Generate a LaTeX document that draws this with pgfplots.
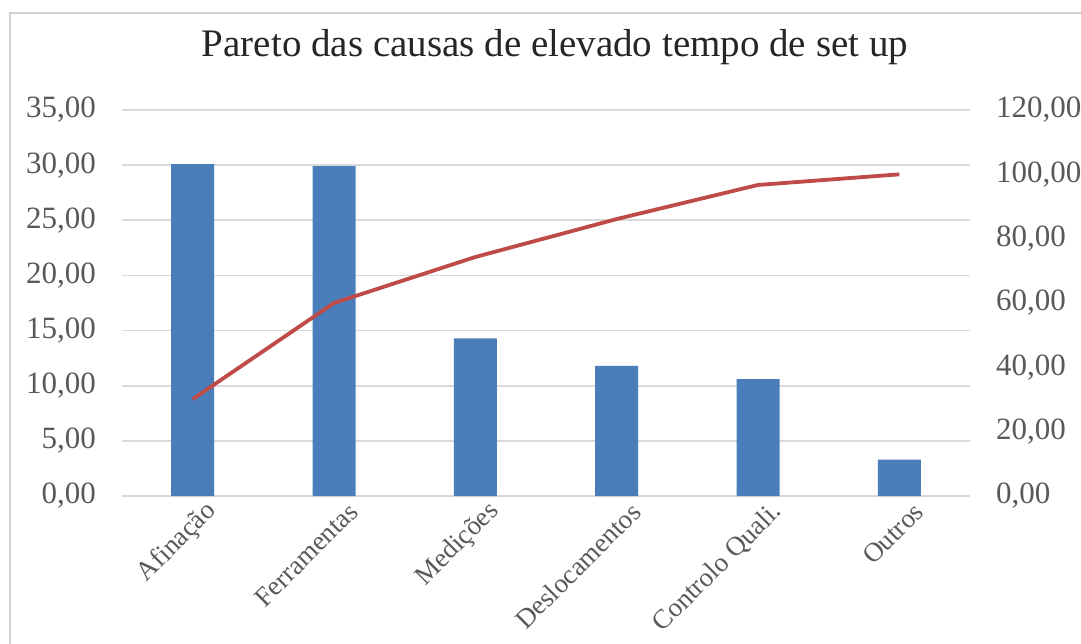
\documentclass[border=0pt]{standalone}
\usepackage{pgfplots}
\pgfplotsset{compat=1.18}
\usepackage{fontspec}
\setmainfont{Liberation Serif}
\definecolor{barblue}{HTML}{4A7EBB}
\definecolor{linered}{HTML}{BE4B48}
\definecolor{gridgray}{HTML}{D9D9D9}
\definecolor{ticktext}{HTML}{595959}
\definecolor{framegray}{HTML}{D0D0D0}

\begin{document}
\begin{tikzpicture}
\useasboundingbox (0,0) rectangle (540.5pt,321.5pt);
\fill[white] (0,0) rectangle (540.5pt,321.5pt);
\draw[framegray, line width=0.8pt] (5pt,-5pt) -- (5pt,315pt) -- (550pt,315pt);
\node[anchor=base, font=\fontsize{19.5}{22}\selectfont, text=black!85] at (277.5pt,293pt) {Pareto das causas de elevado tempo de set up};

\pgfplotsset{
  commonstyle/.style={
    at={(61pt,73.5pt)}, anchor=south west,
    scale only axis, width=424pt, height=193pt,
    xmin=-0.5, xmax=5.5,
    axis line style={draw=none},
    major tick length=0pt,
    /pgf/number format/.cd, fixed, fixed zerofill, precision=2, use comma, 1000 sep={}, assume math mode=true,
  }
}

\begin{axis}[commonstyle,
  ymin=0, ymax=35, ytick={0,5,...,35},
  ymajorgrids, major grid style={gridgray, line width=0.8pt},
  xtick={0,1,2,3,4,5},
  xticklabels={Afinação, Ferramentas, Medições, Deslocamentos, Controlo Quali., Outros},
  x tick label style={rotate=45, anchor=east, font=\fontsize{13.5}{15}\selectfont, text=ticktext, inner sep=1pt, xshift=4pt, yshift=-11pt},
  yticklabel style={font=\fontsize{15.5}{17}\selectfont, text=ticktext, xshift=-9.5pt},
  ybar, bar width=21.5pt,
]
\addplot[fill=barblue, draw=none] coordinates {(0,30.1) (1,29.9) (2,14.3) (3,11.8) (4,10.6) (5,3.3)};
\end{axis}

\begin{axis}[commonstyle,
  ymin=0, ymax=120, ytick={0,20,...,120},
  axis y line*=right, axis x line=none,
  yticklabel style={font=\fontsize{15.5}{17}\selectfont, text=ticktext, anchor=west, xshift=9.5pt},
]
\addplot[linered, line width=1.9pt, no markers] coordinates {(0,30.1) (1,60.0) (2,74.3) (3,86.1) (4,96.7) (5,100.0)};
\end{axis}
\end{tikzpicture}
\end{document}
